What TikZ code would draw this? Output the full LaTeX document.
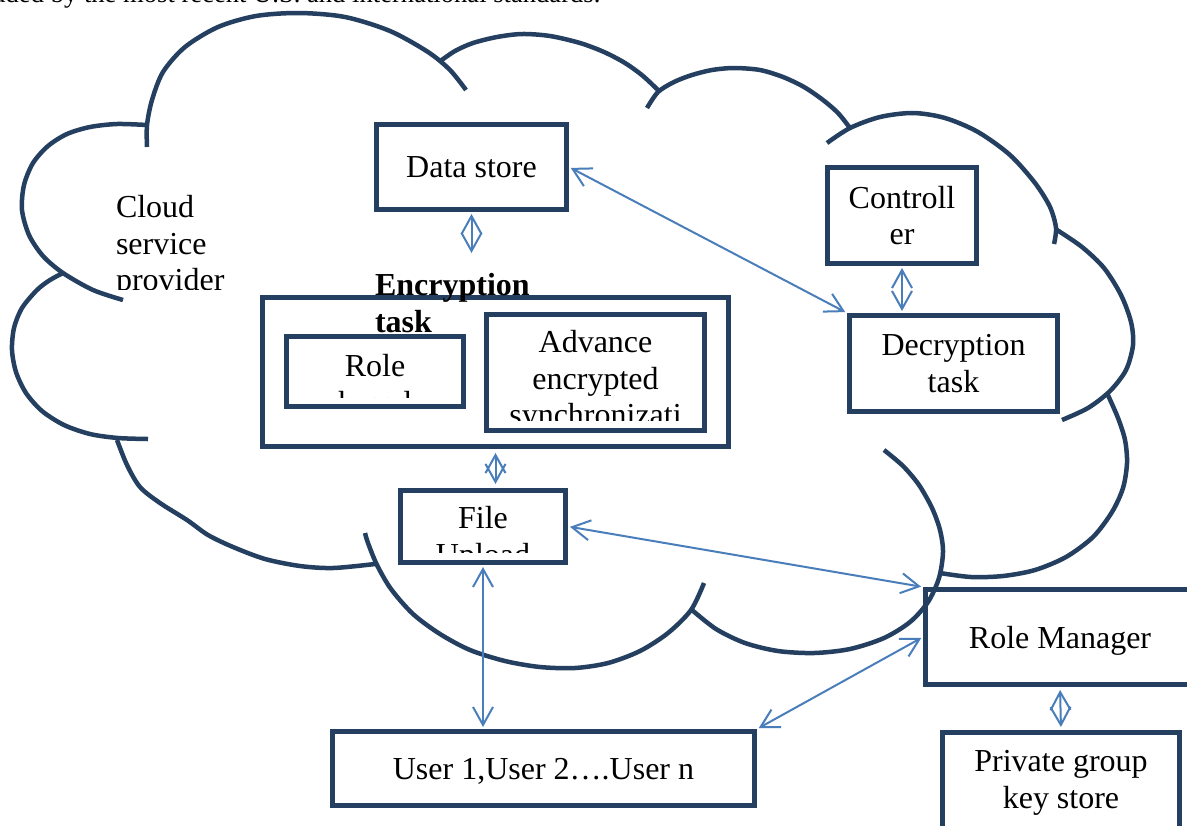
\documentclass[tikz,border=0pt]{standalone}
\usepackage{fontspec}
\setmainfont{Liberation Serif}
\usetikzlibrary{arrows.meta}
\newlength{\du}
\setlength{\du}{0.5pt}
\definecolor{dialinecolor}{RGB}{36,63,96}
\definecolor{dialinkcolor}{RGB}{74,126,187}
\tikzset{
  box/.style={draw=dialinecolor, line width=2.5pt, inner sep=0pt, align=center, font=\fontsize{16}{18.4}\selectfont},
  lbl/.style={inner sep=0pt, outer sep=0pt, font=\fontsize{16}{18.4}\selectfont},
  link/.style={draw=dialinkcolor, line width=1pt, <->, >={Straight Barb[length=9pt,width=10pt]}, shorten <=2\du, shorten >=2\du},
  cloudline/.style={draw=dialinecolor, line width=2.25pt}
}

\begin{document}
\begin{tikzpicture}
\pgftransformyscale{-1.000000}
\useasboundingbox[fill=white] (0\du,0\du) rectangle (1187\du,825\du);
% setfont left to latex
\node[anchor=base west, inner sep=0pt, font=\fontsize{13.3}{16}\selectfont] (toptxt) at (-8\du,2\du) {uded by the most recent U.S. and international standards.};
% cloud
\draw[cloudline] plot[smooth] coordinates {(147\du,147\du) (147\du,125\du) (152\du,100\du) (163\du,72\du) (185\du,47\du) (218\du,27\du) (256\du,16\du) (299\du,13\du) (345\du,17\du) (390\du,31\du) (428\du,52\du) (450\du,70\du) (466\du,90\du)};
\draw[cloudline] plot[smooth] coordinates {(439\du,62\du) (455\du,51\du) (473\du,43\du) (497\du,37\du) (522\du,34\du) (550\du,36\du) (580\du,43\du) (604\du,52\du) (625\du,63\du) (643\du,76\du) (660\du,92\du)};
\draw[cloudline] plot[smooth] coordinates {(647\du,108\du) (658\du,92\du) (674\du,82\du) (692\du,75\du) (712\du,70\du) (734\du,68\du) (760\du,70\du) (783\du,77\du) (804\du,87\du) (823\du,100\du) (838\du,113\du) (850\du,128\du)};
\draw[cloudline] plot[smooth] coordinates {(827\du,143\du) (850\du,128\du) (880\du,117\du) (913\du,113\du) (945\du,118\du) (978\du,132\du) (1010\du,155\du) (1035\du,183\du) (1050\du,207\du) (1056\du,228\du) (1054\du,244\du)};
\draw[cloudline] plot[smooth] coordinates {(1057\du,230\du) (1082\du,247\du) (1104\du,268\du) (1121\du,295\du) (1131\du,322\du) (1133\du,345\du) (1126\du,370\du) (1110\du,391\du) (1088\du,408\du) (1062\du,420\du)};
\draw[cloudline] plot[smooth] coordinates {(1107\du,393\du) (1118\du,418\du) (1125\du,440\du) (1127\du,463\du) (1123\du,488\du) (1112\du,512\du) (1093\du,537\du) (1066\du,557\du) (1035\du,570\du) (1003\du,576\du) (971\du,577\du) (940\du,573\du)};
\draw[cloudline] plot[smooth] coordinates {(884\du,450\du) (903\du,466\du) (919\du,485\du) (932\du,508\du) (940\du,530\du) (943\du,552\du) (939\du,578\du) (928\du,602\du) (910\du,622\du) (884\du,638\du) (850\du,649\du) (814\du,653\du) (778\du,651\du) (745\du,643\du) (716\du,629\du) (692\du,610\du)};
\draw[cloudline] plot[smooth] coordinates {(704\du,583\du) (691\du,610\du) (668\du,633\du) (640\du,651\du) (608\du,663\du) (575\du,668\du) (540\du,667\du) (505\du,661\du) (470\du,650\du) (440\du,634\du) (413\du,614\du) (391\du,589\du) (377\du,565\du) (368\du,543\du) (365\du,533\du)};
\draw[cloudline] plot[smooth] coordinates {(375\du,564\du) (333\du,568\du) (300\du,566\du) (265\du,559\du) (233\du,547\du) (208\du,535\du) (187\du,520\du) (160\du,503\du) (140\du,487\du) (127\du,465\du) (117\du,440\du)};
\draw[cloudline] plot[smooth] coordinates {(148\du,439\du) (118\du,438\du) (90\du,434\du) (64\du,425\du) (42\du,411\du) (26\du,393\du) (16\du,372\du) (12\du,350\du) (14\du,328\du) (22\du,308\du) (37\du,290\du) (50\du,280\du) (63\du,273\du)};
\draw[cloudline] plot[smooth] coordinates {(123\du,300\du) (93\du,290\du) (63\du,273\du) (43\du,256\du) (29\du,235\du) (22\du,210\du) (24\du,185\du) (33\du,163\du) (48\du,146\du) (67\du,134\du) (90\du,127\du) (117\du,124\du) (147\du,125\du)};
% boxes
\node[box, minimum width=190\du, minimum height=85\du, text depth=0pt] (data) at (471.5\du,167\du) {Data store};
\node[box, minimum width=149\du, minimum height=96\du] (ctrl) at (902\du,215.5\du) {Controll\\er};
\node[box, minimum width=208\du, minimum height=96\du] (decr) at (953.5\du,363.5\du) {Decryption\\task};
\node[box, minimum width=466\du, minimum height=149\du] (encr) at (495.5\du,372\du) {};
\node[box, minimum width=177\du, minimum height=70\du] (role) at (375\du,371.5\du) {};
\node[box, minimum width=218\du, minimum height=116\du] (aes) at (595.5\du,372.5\du) {};
\node[box, minimum width=165\du, minimum height=72\du] (file) at (483\du,526.5\du) {};
\node[box, minimum width=422\du, minimum height=74\du, text depth=0pt] (users) at (543.5\du,768.5\du) {User 1,User 2….User n};
\node[box, minimum width=269\du, minimum height=95\du, text depth=0pt] (rolemgr) at (1060\du,637\du) {Role Manager};
\node[box, minimum width=237\du, minimum height=130\du] (pgks) at (1061\du,797.5\du) {};
% labels
\node[lbl, anchor=north, align=center] (pgkslbl) at (1061\du,750\du) {Private group\\key store};
\node[lbl, anchor=north west, align=left, font=\fontsize{16}{18.4}\selectfont\bfseries] (enclbl) at (375\du,273\du) {Encryption\\task};
\begin{scope}
\clip (100\du,180\du) rectangle (300\du,289\du);
\node[lbl, anchor=north west, align=left] (cloudlbl) at (116\du,195\du) {Cloud\\service\\provider};
\end{scope}
\begin{scope}
\clip (289\du,339\du) rectangle (461\du,397\du);
\node[lbl, anchor=north, align=center] (rolelbl) at (375\du,354\du) {Role\\based};
\end{scope}
\begin{scope}
\clip (489\du,317\du) rectangle (702\du,420\du);
\node[lbl, anchor=north, align=center] (aeslbl) at (595.5\du,330\du) {Advance\\encrypted\\synchronizati\\on};
\end{scope}
\begin{scope}
\clip (403\du,493\du) rectangle (563\du,552\du);
\node[lbl, anchor=north, align=center] (filelbl) at (483\du,506\du) {File\\Upload};
\end{scope}
% links
\draw[link] (data.east) -- (decr.north west);
\draw[link, shorten >=20\du] (data.south) -- (data.south |- enclbl.north);
\draw[link] (ctrl.south) -- (ctrl.south |- decr.north);
\draw[link, shorten <=4\du, shorten >=4\du] (encr.south) -- (encr.south |- file.north);
\draw[link] (file.east) -- (rolemgr.north west);
\draw[link] (file.south) -- (file.south |- users.north);
\draw[link] (users.north east) -- (rolemgr.west);
\draw[link, shorten <=3\du, shorten >=3\du] (rolemgr.south) -- (pgks.north);
\end{tikzpicture}
\end{document}
